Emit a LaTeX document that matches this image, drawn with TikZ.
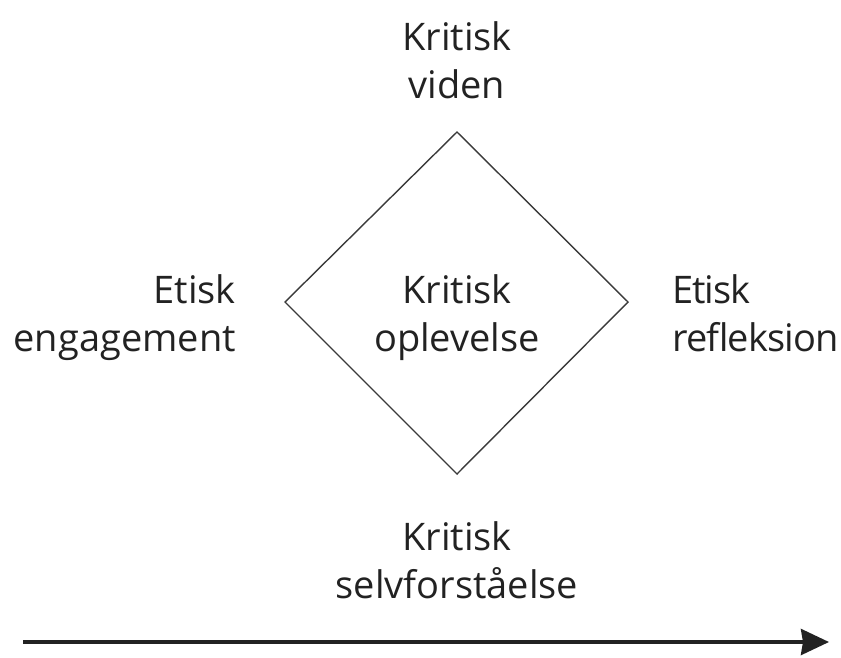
\documentclass[tikz,border=0pt]{standalone}
\usepackage{fontspec}
\setmainfont{Open Sans}
\usetikzlibrary{arrows.meta}
\definecolor{ink}{HTML}{222222}
\definecolor{edge}{HTML}{3A3A3A}
\tikzset{
  lbl/.style={font=\fontsize{38}{48}\selectfont, text=ink, inner sep=0pt},
  tight/.style={font=\fontsize{38}{48}\selectfont\addfontfeature{LetterSpace=-2.5}},
  rhomb/.style={draw=edge, line width=1.4pt, line join=miter},
  timeline/.style={draw=ink, line width=3.5pt,
    -{Stealth[length=28pt, width=26pt, inset=2pt]}}
}
\begin{document}
\begin{tikzpicture}[x=1pt, y=-1pt]
  \useasboundingbox (0,0) rectangle (841,657);
  % the diamond
  \coordinate (dt) at (457,132);
  \coordinate (dr) at (628,302);
  \coordinate (db) at (457,474);
  \coordinate (dl) at (285,302);
  \draw[rhomb] (dt) -- (dr) -- (db) -- (dl) -- cycle;
  % labels round the diamond (base = baseline of the last line)
  \node[lbl, anchor=base, align=center] (top) at (457,98) {Kritisk\\viden};
  \node[lbl, anchor=base, align=center] (mid) at (457,351) {Kritisk\\oplevelse};
  \node[lbl, anchor=base east, align=right] (left) at (236,351) {Etisk\\engagement};
  \node[lbl, tight, anchor=base west, align=left] (right) at (672,351) {Etisk\\refleksion};
  \node[lbl, anchor=base, align=center] (bottom) at (457,598) {Kritisk\\selvforståelse};
  % the arrow along the bottom
  \coordinate (as) at (23,642);
  \coordinate (ae) at (829,642);
  \draw[timeline] (as) -- (ae);
\end{tikzpicture}
\end{document}
